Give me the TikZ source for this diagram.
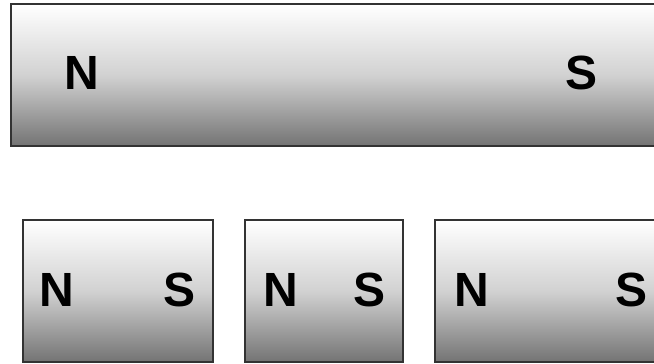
\documentclass[tikz,border=0pt]{standalone}
\usepackage{fontspec}
\setmainfont{Liberation Sans}
\tikzset{
  magnet/.style={draw=black!80, line width=2pt, top color=white, bottom color=black!55, middle color=black!18, inner sep=0pt},
  pole/.style={font=\bfseries\fontsize{48}{48}\selectfont, anchor=base, inner sep=0pt}
}
\begin{document}
\begin{tikzpicture}[x=1pt,y=1pt]
    \clip (0,0) rectangle (654,364);
    % whole magnet
    \node[magnet, minimum width=645.5pt, minimum height=142pt] (bar) at (333.25,288.5) {};
    \node[pole] (barN) at (82,274) {N};
    \node[pole] (barS) at (582,274) {S};
    % broken pieces
    \node[magnet, minimum width=190.5pt, minimum height=142pt] (partA) at (117.75,72.5) {};
    \node[magnet, minimum width=158pt, minimum height=142pt] (partB) at (324,72.5) {};
    \node[magnet, minimum width=221pt, minimum height=142pt] (partC) at (545.5,72.5) {};
    \node[pole] (partAN) at (57,57) {N};
    \node[pole] (partAS) at (180,57) {S};
    \node[pole] (partBN) at (281,57) {N};
    \node[pole] (partBS) at (370,57) {S};
    \node[pole] (partCN) at (472,57) {N};
    \node[pole] (partCS) at (632,57) {S};
  \end{tikzpicture}
\end{document}
